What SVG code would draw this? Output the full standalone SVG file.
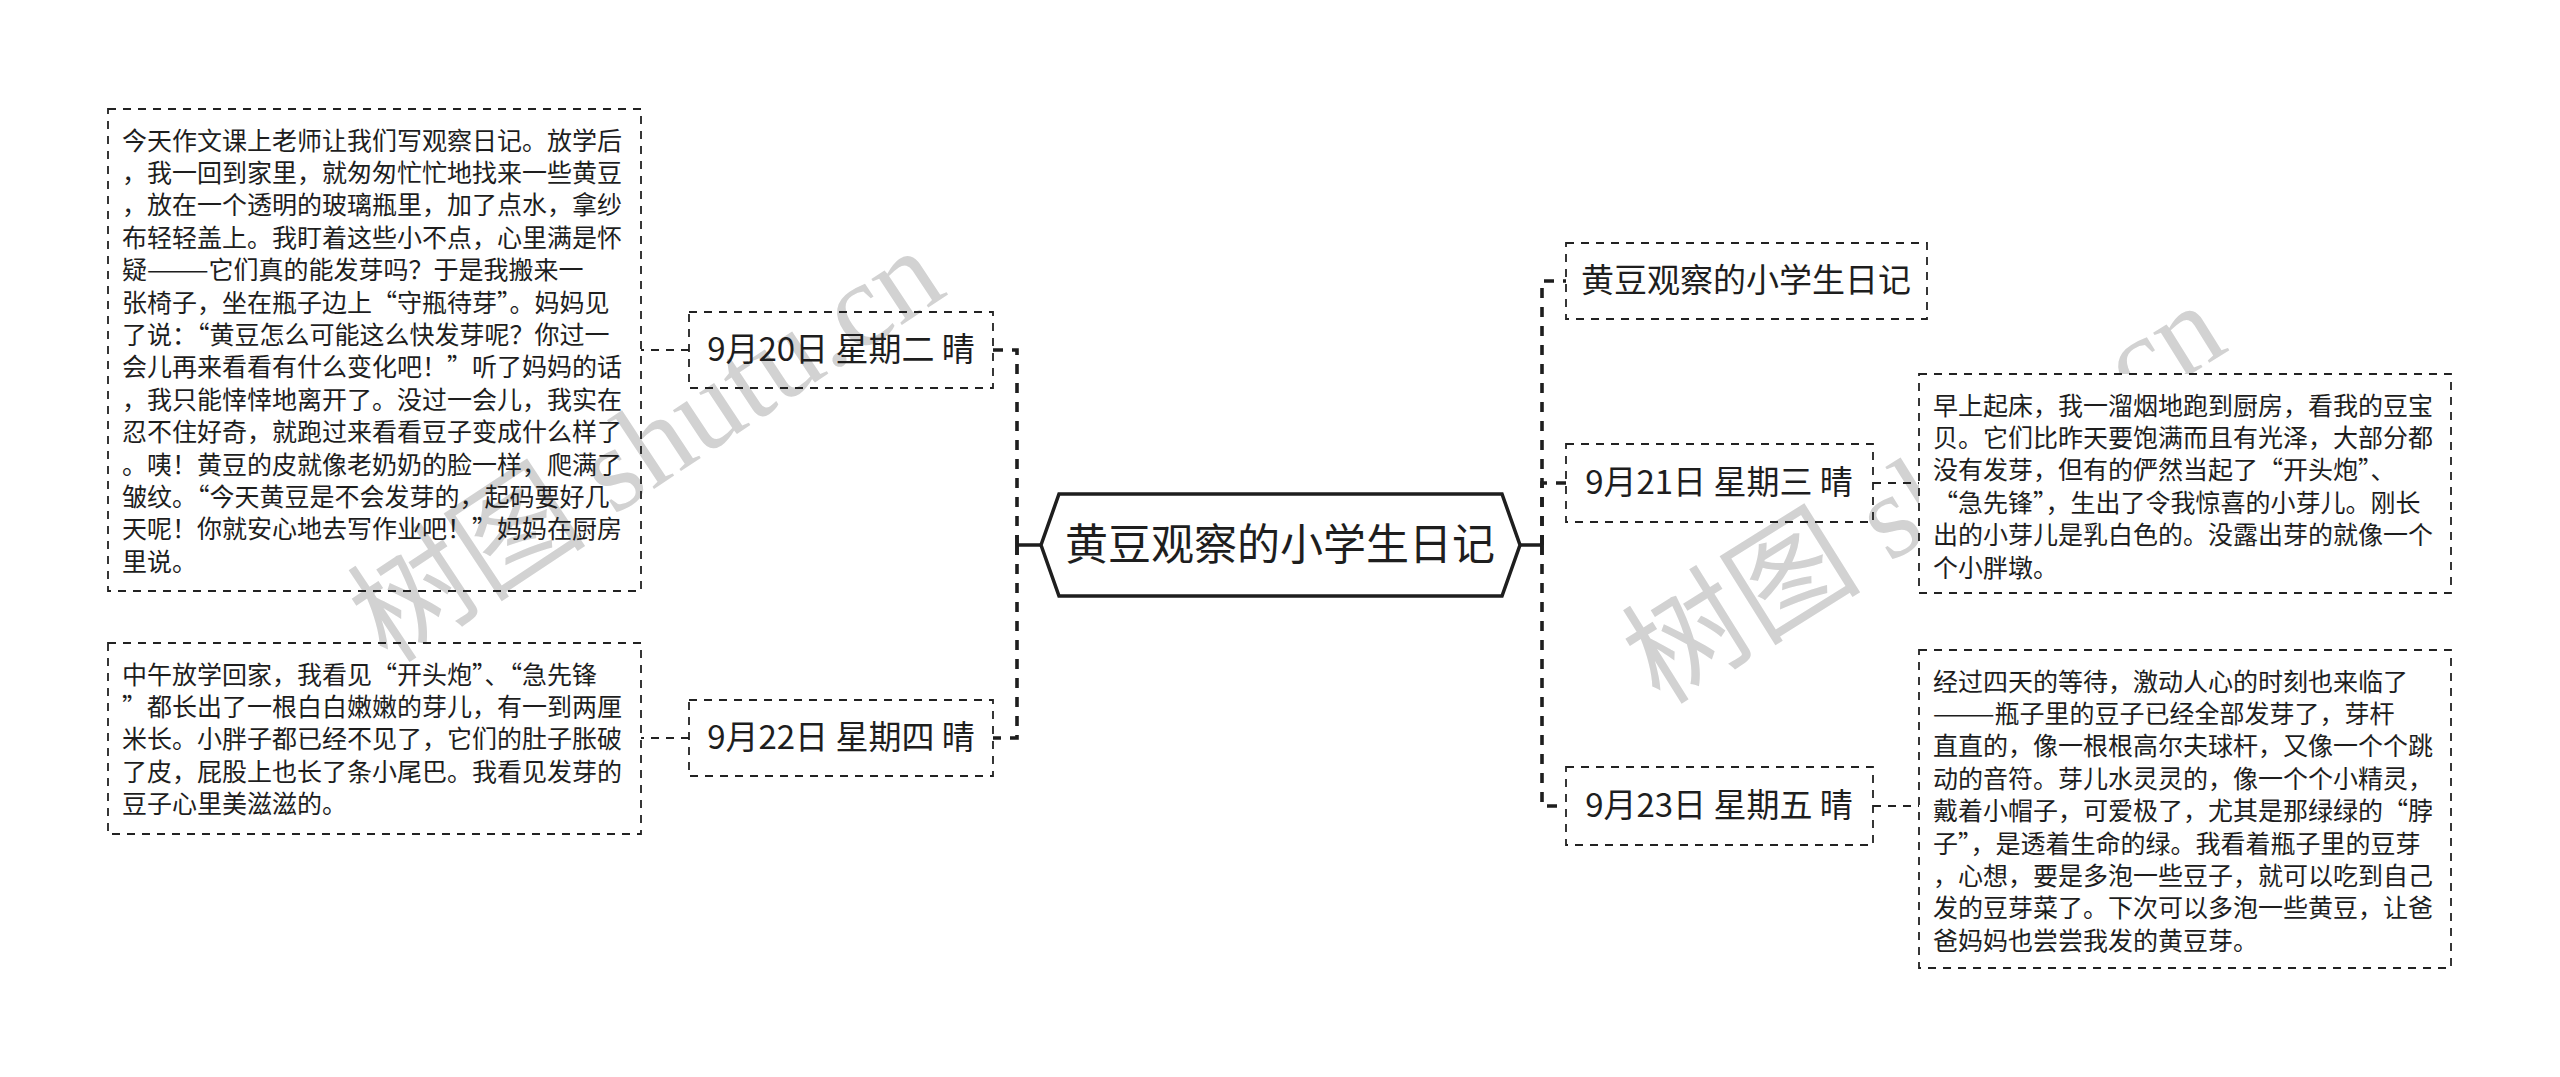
<svg xmlns="http://www.w3.org/2000/svg" width="2560" height="1077" viewBox="0 0 2560 1077">
<style>
  .bg{fill:#ffffff}
  .wm{font-family:"Liberation Serif","Noto Sans CJK SC",serif;font-size:120px;fill:#d2d2d2}
  .root{fill:#ffffff;stroke:#1e1e1e;stroke-width:3.5;stroke-linejoin:miter}
  .roottxt{font-family:"Noto Sans CJK SC","Noto Sans",sans-serif;font-size:43px;fill:#1e1e1e;text-anchor:middle}
  .box{fill:none;stroke:#222;stroke-width:1.8;stroke-dasharray:8 7}
  .boxw{fill:#ffffff;stroke:#222;stroke-width:1.8;stroke-dasharray:8 7}
  .lbl{font-family:"Noto Sans CJK SC","Noto Sans",sans-serif;font-size:33px;fill:#1e1e1e;text-anchor:middle}
  .body{font-family:"Noto Sans CJK SC","Noto Sans",sans-serif;font-size:25px;fill:#1e1e1e}
  .trunk{fill:none;stroke:#1e1e1e;stroke-width:3.6;stroke-dasharray:10 9}
  .stub{fill:none;stroke:#1e1e1e;stroke-width:3.6}
  .leaf{fill:none;stroke:#222;stroke-width:1.8;stroke-dasharray:8 7}
</style>
<rect class="bg" x="0" y="0" width="2560" height="1077"/>

<text class="wm" transform="translate(388,665) rotate(-33.5)">树图 shutu.cn</text>
<text class="wm" transform="translate(1660,706) rotate(-32)">树图 shutu.cn</text>

<g id="connectors">
  <path class="trunk" d="M1017,545 V350 H993"/>
  <path class="trunk" d="M1017,545 V738 H993"/>
  <path class="stub" d="M1017,545 H1041 M1017,535 V555"/>
  <path class="trunk" d="M1542,545 V281 H1566"/>
  <path class="trunk" d="M1542,545 V483 H1566"/>
  <path class="trunk" d="M1542,545 V806 H1566"/>
  <path class="stub" d="M1520,545 H1542 M1542,535 V555"/>
  <path class="leaf" d="M689,350 H641"/>
  <path class="leaf" d="M689,738 H641"/>
  <path class="leaf" d="M1873,483 H1919"/>
  <path class="leaf" d="M1873,806 H1919"/>
</g>

<g id="root">
  <polygon class="root" points="1041,545 1059,494 1502,494 1520,545 1502,596 1059,596"/>
  <text class="roottxt" x="1280" y="560">黄豆观察的小学生日记</text>
</g>

<g id="n-0920">
  <rect class="box" x="689" y="312" width="304" height="76"/>
  <text class="lbl" x="841" y="361">9月20日 星期二 晴</text>
</g>
<g id="n-0922">
  <rect class="box" x="689" y="700" width="304" height="76"/>
  <text class="lbl" x="841" y="749">9月22日 星期四 晴</text>
</g>
<g id="n-title">
  <rect class="box" x="1566" y="243" width="361" height="76"/>
  <text class="lbl" x="1746" y="292">黄豆观察的小学生日记</text>
</g>
<g id="n-0921">
  <rect class="box" x="1566" y="444" width="307" height="78"/>
  <text class="lbl" x="1719" y="494">9月21日 星期三 晴</text>
</g>
<g id="n-0923">
  <rect class="box" x="1566" y="767" width="307" height="78"/>
  <text class="lbl" x="1719" y="817">9月23日 星期五 晴</text>
</g>

<g id="t-0920">
  <rect class="box" x="108" y="109" width="533" height="482"/>
  <text class="body">
    <tspan x="122" y="149.5">今天作文课上老师让我们写观察日记。放学后</tspan>
    <tspan x="122" y="181.9">，我一回到家里，就匆匆忙忙地找来一些黄豆</tspan>
    <tspan x="122" y="214.3">，放在一个透明的玻璃瓶里，加了点水，拿纱</tspan>
    <tspan x="122" y="246.7">布轻轻盖上。我盯着这些小不点，心里满是怀</tspan>
    <tspan x="122" y="279.1">疑———它们真的能发芽吗？于是我搬来一</tspan>
    <tspan x="122" y="311.5">张椅子，坐在瓶子边上“守瓶待芽”。妈妈见</tspan>
    <tspan x="122" y="343.9">了说：“黄豆怎么可能这么快发芽呢？你过一</tspan>
    <tspan x="122" y="376.3">会儿再来看看有什么变化吧！”听了妈妈的话</tspan>
    <tspan x="122" y="408.7">，我只能悻悻地离开了。没过一会儿，我实在</tspan>
    <tspan x="122" y="441.1">忍不住好奇，就跑过来看看豆子变成什么样了</tspan>
    <tspan x="122" y="473.5">。咦！黄豆的皮就像老奶奶的脸一样，爬满了</tspan>
    <tspan x="122" y="505.9">皱纹。“今天黄豆是不会发芽的，起码要好几</tspan>
    <tspan x="122" y="538.3">天呢！你就安心地去写作业吧！”妈妈在厨房</tspan>
    <tspan x="122" y="570.7">里说。</tspan>
  </text>
</g>
<g id="t-0922">
  <rect class="box" x="108" y="643" width="533" height="191"/>
  <text class="body">
    <tspan x="122" y="683.5">中午放学回家，我看见“开头炮”、“急先锋</tspan>
    <tspan x="122" y="715.9">”都长出了一根白白嫩嫩的芽儿，有一到两厘</tspan>
    <tspan x="122" y="748.3">米长。小胖子都已经不见了，它们的肚子胀破</tspan>
    <tspan x="122" y="780.7">了皮，屁股上也长了条小尾巴。我看见发芽的</tspan>
    <tspan x="122" y="813.1">豆子心里美滋滋的。</tspan>
  </text>
</g>

<g id="t-0921">
  <rect class="boxw" x="1919" y="374" width="532" height="219"/>
  <text class="body">
    <tspan x="1933" y="414.5">早上起床，我一溜烟地跑到厨房，看我的豆宝</tspan>
    <tspan x="1933" y="446.9">贝。它们比昨天要饱满而且有光泽，大部分都</tspan>
    <tspan x="1933" y="479.3">没有发芽，但有的俨然当起了“开头炮”、</tspan>
    <tspan x="1933" y="511.7">“急先锋”，生出了令我惊喜的小芽儿。刚长</tspan>
    <tspan x="1933" y="544.1">出的小芽儿是乳白色的。没露出芽的就像一个</tspan>
    <tspan x="1933" y="576.5">个小胖墩。</tspan>
  </text>
</g>
<g id="t-0923">
  <rect class="boxw" x="1919" y="650" width="532" height="318"/>
  <text class="body">
    <tspan x="1933" y="690.5">经过四天的等待，激动人心的时刻也来临了</tspan>
    <tspan x="1933" y="722.9">———瓶子里的豆子已经全部发芽了，芽杆</tspan>
    <tspan x="1933" y="755.3">直直的，像一根根高尔夫球杆，又像一个个跳</tspan>
    <tspan x="1933" y="787.7">动的音符。芽儿水灵灵的，像一个个小精灵，</tspan>
    <tspan x="1933" y="820.1">戴着小帽子，可爱极了，尤其是那绿绿的“脖</tspan>
    <tspan x="1933" y="852.5">子”，是透着生命的绿。我看着瓶子里的豆芽</tspan>
    <tspan x="1933" y="884.9">，心想，要是多泡一些豆子，就可以吃到自己</tspan>
    <tspan x="1933" y="917.3">发的豆芽菜了。下次可以多泡一些黄豆，让爸</tspan>
    <tspan x="1933" y="949.7">爸妈妈也尝尝我发的黄豆芽。</tspan>
  </text>
</g>
</svg>
